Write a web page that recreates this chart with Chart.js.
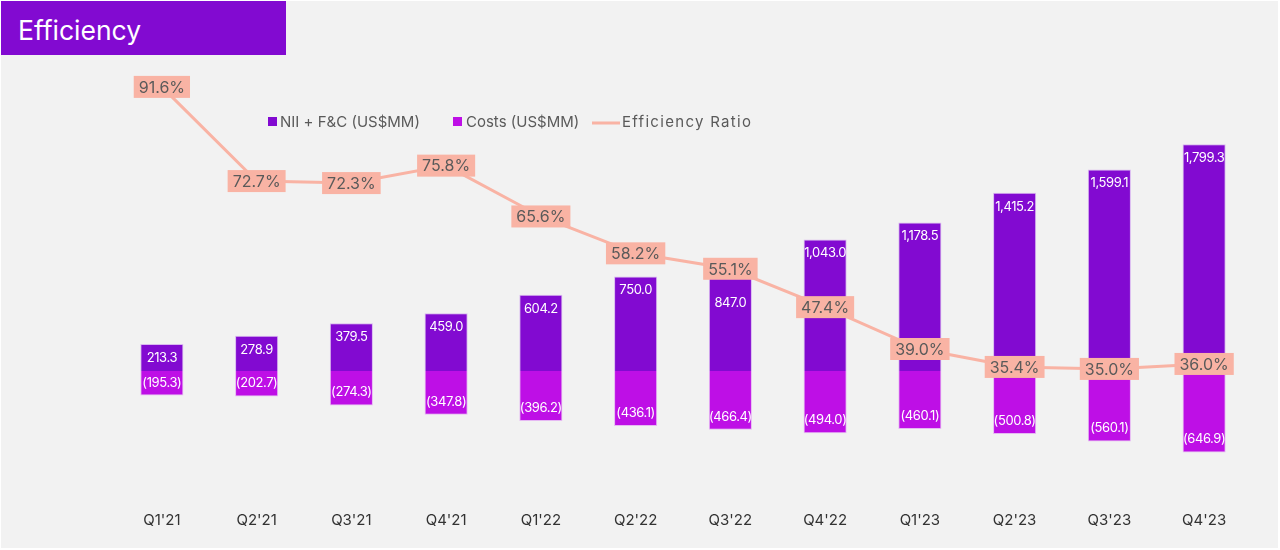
<!DOCTYPE html>
<html>
<head>
<meta charset="utf-8">
<script src="https://cdn.jsdelivr.net/npm/chart.js@4.4.0/dist/chart.umd.min.js"></script>
<style>
  html, body { margin: 0; padding: 0; background: #ffffff; }
  #frame { position: absolute; left: 1px; top: 1px; width: 1277px; height: 547px; background: #f2f2f2; }
  #wrap { position: absolute; left: 0; top: 0; width: 1280px; height: 550px; }
  #title { position: absolute; left: 1px; top: 1px; width: 285px; height: 54px; background: #820ad1;
           color: #ffffff; font-family: Inter, "Open Sans", sans-serif; font-size: 26.5px; line-height: 59px;
           padding-left: 17px; box-sizing: border-box; letter-spacing: 0px; }
</style>
</head>
<body>
<div id="frame"></div>
<div id="wrap"><canvas id="c" width="1280" height="550"></canvas></div>
<div id="title">Efficiency</div>
<script>
const categories = ["Q1'21","Q2'21","Q3'21","Q4'21","Q1'22","Q2'22","Q3'22","Q4'22","Q1'23","Q2'23","Q3'23","Q4'23"];
const niiFc = [213.3, 278.9, 379.5, 459.0, 604.2, 750.0, 847.0, 1043.0, 1178.5, 1415.2, 1599.1, 1799.3];
const costs = [-195.3, -202.7, -274.3, -347.8, -396.2, -436.1, -466.4, -494.0, -460.1, -500.8, -560.1, -646.9];
const efficiency = [91.6, 72.7, 72.3, 75.8, 65.6, 58.2, 55.1, 47.4, 39.0, 35.4, 35.0, 36.0];
const seriesNames = ["NII + F&C (US$MM)", "Costs (US$MM)", "Efficiency Ratio"];

const PURPLE = '#820ad1';
const MAGENTA = '#be0fe6';
const SALMON = '#f9b3a4';
const FONT = 'Inter, "Open Sans", sans-serif';

function fmtNum(v) {
  const a = Math.abs(v);
  const s = a.toLocaleString('en-US', {minimumFractionDigits: 1, maximumFractionDigits: 1});
  return v < 0 ? '(' + s + ')' : s;
}

const labelPlugin = {
  id: 'labels',
  afterDatasetsDraw(chart) {
    const ctx = chart.ctx;
    const lineMeta = chart.getDatasetMeta(2);
    ctx.save();
    ctx.font = '13px ' + FONT;
    ctx.letterSpacing = '-0.4px';
    ctx.fillStyle = '#ffffff';
    ctx.textAlign = 'center';
    ctx.textBaseline = 'middle';
    chart.getDatasetMeta(0).data.forEach((bar, i) => {
      let y = bar.y + 14;
      const ly = lineMeta.data[i].y;
      if (Math.abs(y - ly) < 20) y = ly + 34;
      ctx.fillText(fmtNum(niiFc[i]), bar.x, y);
    });
    chart.getDatasetMeta(1).data.forEach((bar, i) => {
      ctx.fillText(fmtNum(costs[i]), bar.x, bar.y - 13);
    });
    ctx.letterSpacing = '0px';
    ctx.font = '16px ' + FONT;
    lineMeta.data.forEach((pt, i) => {
      const t = efficiency[i].toFixed(1) + '%';
      const w = ctx.measureText(t).width + 10;
      const h = 22;
      ctx.fillStyle = SALMON;
      ctx.fillRect(pt.x - w / 2, pt.y - h / 2, w, h);
      ctx.fillStyle = '#5a5a5a';
      ctx.fillText(t, pt.x, pt.y + 1);
    });
    ctx.font = '15px ' + FONT;
    ctx.textAlign = 'left';
    const ly = 122;
    ctx.fillStyle = PURPLE; ctx.fillRect(268, ly - 5, 9, 9);
    ctx.fillStyle = '#5a5a5a'; ctx.fillText(seriesNames[0], 280, ly);
    ctx.fillStyle = MAGENTA; ctx.fillRect(453, ly - 5, 9, 9);
    ctx.fillStyle = '#5a5a5a'; ctx.fillText(seriesNames[1], 466, ly);
    ctx.strokeStyle = SALMON; ctx.lineWidth = 3;
    ctx.beginPath(); ctx.moveTo(592, ly + 1); ctx.lineTo(620, ly + 1); ctx.stroke();
    ctx.letterSpacing = '1.3px';
    ctx.fillStyle = '#5a5a5a'; ctx.fillText(seriesNames[2], 622, ly);
    ctx.restore();
  }
};

new Chart(document.getElementById('c'), {
  type: 'bar',
  data: {
    labels: categories,
    datasets: [
      { type: 'bar', label: seriesNames[0], data: niiFc, backgroundColor: PURPLE, borderColor: '#d9b8f0', borderWidth: 1,
        stack: 's', yAxisID: 'y', order: 2, barPercentage: 0.455, categoryPercentage: 1 },
      { type: 'bar', label: seriesNames[1], data: costs, backgroundColor: MAGENTA, borderColor: '#e6b8f3', borderWidth: 1,
        stack: 's', yAxisID: 'y', order: 2, barPercentage: 0.455, categoryPercentage: 1 },
      { type: 'line', label: seriesNames[2], data: efficiency, borderColor: SALMON, borderWidth: 3,
        pointRadius: 0, tension: 0, yAxisID: 'y1', order: 1 }
    ]
  },
  options: {
    responsive: false,
    animation: false,
    layout: { padding: { left: 114.5, right: 28.5, top: 56, bottom: 7 } },
    plugins: { legend: { display: false }, tooltip: { enabled: false } },
    scales: {
      x: { stacked: true, offset: true, grid: { display: false, drawTicks: false }, border: { display: false },
           ticks: { padding: 14, color: '#333333', font: { family: FONT, size: 15 } } },
      y: { stacked: true, display: false, min: -1000, max: 2500 },
      y1: { display: false, min: 9.3, max: 97.8 }
    }
  },
  plugins: [labelPlugin]
});
</script>
</body>
</html>
